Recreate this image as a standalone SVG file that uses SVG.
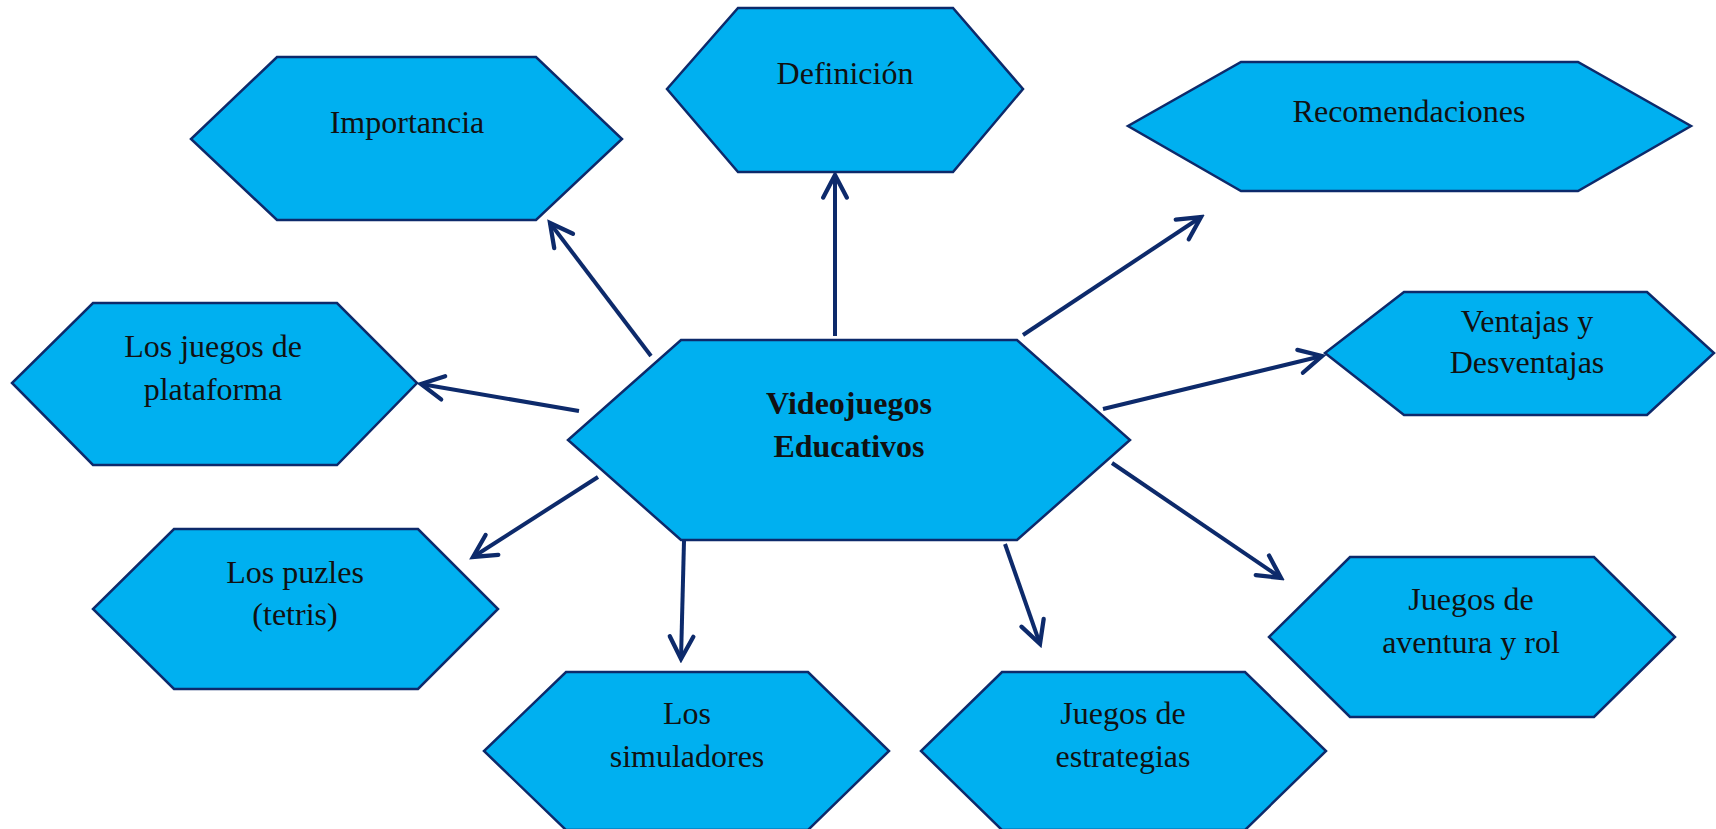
<svg xmlns="http://www.w3.org/2000/svg" width="1716" height="829" viewBox="0 0 1716 829">
  <style>
    .hex { fill: #00B0F0; stroke: #0D2A6B; stroke-width: 2.5; stroke-linejoin: miter; }
    .lbl { font-family: "Liberation Serif", "Times New Roman", serif; font-size: 32px; fill: #111111; text-anchor: middle; }
    .bold { font-weight: bold; }
    .conn { stroke: #0D2A6B; stroke-width: 4; fill: none; marker-end: url(#arrow); }
  </style>
  <defs>
    <marker id="arrow" markerUnits="userSpaceOnUse" markerWidth="30" markerHeight="30" viewBox="-24 -14 28 28" refX="0" refY="0" orient="auto">
      <path d="M-21,-11 L0,0 L-21,11" fill="none" stroke="#0D2A6B" stroke-width="4" stroke-linecap="round" stroke-linejoin="miter"/>
    </marker>
  </defs>
  <rect width="1716" height="829" fill="#FFFFFF"/>

  <g id="connectors">
    <line class="conn" x1="651" y1="356" x2="550" y2="223"/>
    <line class="conn" x1="835" y1="336" x2="835" y2="175"/>
    <line class="conn" x1="1023" y1="335" x2="1201" y2="217"/>
    <line class="conn" x1="579" y1="411" x2="421" y2="384"/>
    <line class="conn" x1="1103" y1="409" x2="1322" y2="356"/>
    <line class="conn" x1="598" y1="477" x2="473" y2="557"/>
    <line class="conn" x1="684" y1="541" x2="681" y2="659"/>
    <line class="conn" x1="1005" y1="544" x2="1040" y2="644"/>
    <line class="conn" x1="1112" y1="463" x2="1281" y2="578"/>
  </g>

  <g id="node-importancia">
    <polygon class="hex" points="277,57 536,57 622,139 536,220 277,220 191,139"/>
    <text class="lbl" x="407" y="133">Importancia</text>
  </g>
  <g id="node-definicion">
    <polygon class="hex" points="738,8 953,8 1023,89 953,172 738,172 667,89"/>
    <text class="lbl" x="845" y="84">Definición</text>
  </g>
  <g id="node-recomendaciones">
    <polygon class="hex" points="1241,62 1578,62 1691,126 1578,191 1241,191 1128,126"/>
    <text class="lbl" x="1409" y="122">Recomendaciones</text>
  </g>
  <g id="node-plataforma">
    <polygon class="hex" points="93,303 337,303 417,383 337,465 93,465 12,383"/>
    <text class="lbl" x="213" y="357">Los juegos de</text>
    <text class="lbl" x="213" y="400">plataforma</text>
  </g>
  <g id="node-central">
    <polygon class="hex" points="681,340 1017,340 1130,440 1017,540 681,540 568,440"/>
    <text class="lbl bold" x="849" y="414">Videojuegos</text>
    <text class="lbl bold" x="849" y="457">Educativos</text>
  </g>
  <g id="node-ventajas">
    <polygon class="hex" points="1404,292 1647,292 1714,353 1647,415 1404,415 1325,353"/>
    <text class="lbl" x="1527" y="332">Ventajas y</text>
    <text class="lbl" x="1527" y="373">Desventajas</text>
  </g>
  <g id="node-puzles">
    <polygon class="hex" points="174,529 418,529 498,609 418,689 174,689 93,609"/>
    <text class="lbl" x="295" y="583">Los puzles</text>
    <text class="lbl" x="295" y="625">(tetris)</text>
  </g>
  <g id="node-simuladores">
    <polygon class="hex" points="566,672 808,672 889,751 808,830 566,830 484,751"/>
    <text class="lbl" x="687" y="724">Los</text>
    <text class="lbl" x="687" y="767">simuladores</text>
  </g>
  <g id="node-estrategias">
    <polygon class="hex" points="1002,672 1245,672 1326,751 1245,830 1002,830 921,751"/>
    <text class="lbl" x="1123" y="724">Juegos de</text>
    <text class="lbl" x="1123" y="767">estrategias</text>
  </g>
  <g id="node-aventura">
    <polygon class="hex" points="1350,557 1594,557 1675,637 1594,717 1350,717 1269,637"/>
    <text class="lbl" x="1471" y="610">Juegos de</text>
    <text class="lbl" x="1471" y="653">aventura y rol</text>
  </g>
</svg>
